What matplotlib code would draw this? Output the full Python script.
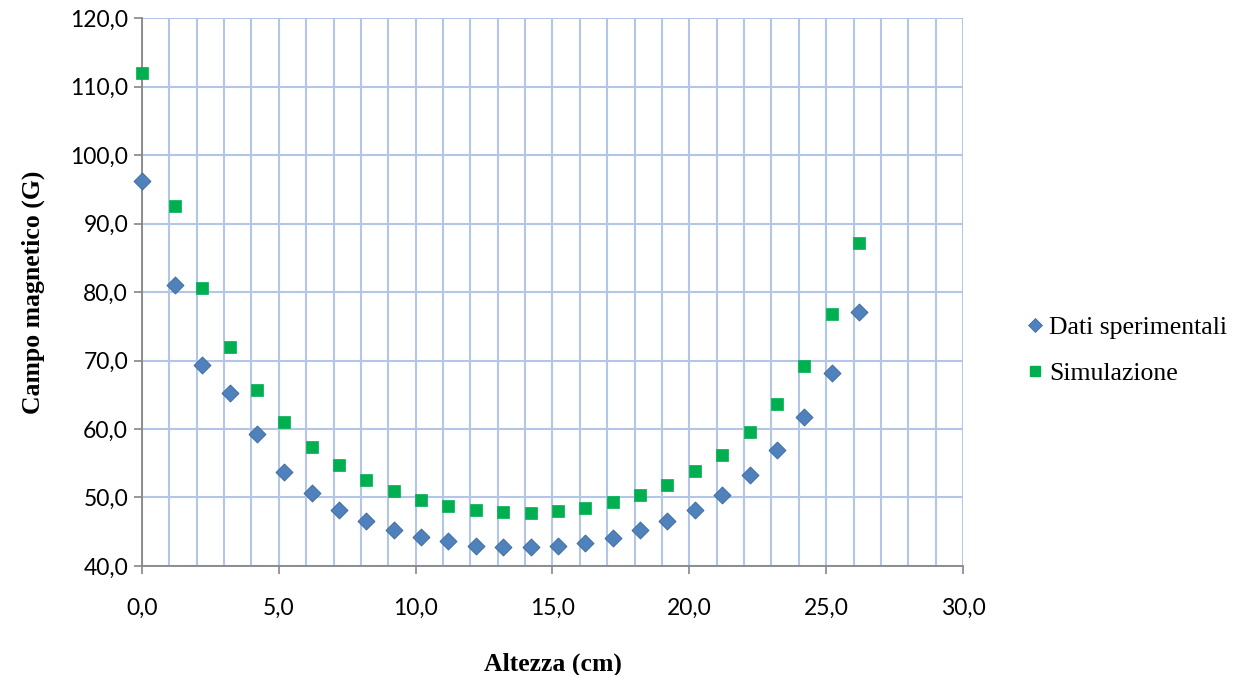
import matplotlib
matplotlib.use("Agg")
import matplotlib.pyplot as plt
from matplotlib.ticker import FuncFormatter, MultipleLocator
from matplotlib.lines import Line2D

# Magnetic field along the height of the coil
altezza = [0.0, 1.2, 2.2, 3.2, 4.2, 5.2, 6.2, 7.2, 8.2, 9.2, 10.2, 11.2, 12.2, 13.2,
           14.2, 15.2, 16.2, 17.2, 18.2, 19.2, 20.2, 21.2, 22.2, 23.2, 24.2, 25.2, 26.2]
dati_sperimentali = [96.2, 81.0, 69.4, 65.3, 59.3, 53.7, 50.6, 48.2, 46.6, 45.3, 44.3, 43.6,
                     42.9, 42.7, 42.7, 42.9, 43.4, 44.1, 45.2, 46.5, 48.2, 50.3, 53.3, 57.0,
                     61.8, 68.2, 77.1]
simulazione = [112.0, 92.6, 80.6, 72.0, 65.7, 61.0, 57.4, 54.7, 52.5, 50.9, 49.7, 48.8,
               48.2, 47.9, 47.8, 48.0, 48.5, 49.3, 50.4, 51.8, 53.8, 56.2, 59.5, 63.7,
               69.2, 76.8, 87.2]

serif = "Liberation Serif"
sans = "Lato"

fig = plt.figure(figsize=(12.41, 6.75), dpi=100)
ax = fig.add_axes([0.1144, 0.1615, 0.6616, 0.8118])

grid_color = "#B3C6E7"
ax.set_xlim(0, 30)
ax.set_ylim(40, 120)
ax.xaxis.set_major_locator(MultipleLocator(5))
ax.xaxis.set_minor_locator(MultipleLocator(1))
ax.yaxis.set_major_locator(MultipleLocator(10))
ax.grid(True, which="both", axis="x", color=grid_color, linewidth=1.5)
ax.grid(True, which="major", axis="y", color=grid_color, linewidth=1.5)
ax.set_axisbelow(True)

for side in ("top", "right"):
    ax.spines[side].set_visible(False)
for side in ("left", "bottom"):
    ax.spines[side].set_color("#868686")
    ax.spines[side].set_linewidth(1.3)
ax.tick_params(which="major", direction="out", length=6, width=1.2, color="#868686",
               labelsize=16.5, pad=4)
ax.tick_params(axis="x", which="minor", length=0)
ax.tick_params(axis="x", which="major", pad=17)

fmt = FuncFormatter(lambda v, p: f"{v:.1f}".replace(".", ","))
ax.xaxis.set_major_formatter(fmt)
ax.yaxis.set_major_formatter(fmt)
for lab in ax.get_xticklabels() + ax.get_yticklabels():
    lab.set_fontfamily(sans)

ax.scatter(altezza, dati_sperimentali, marker="D", s=75, color="#4F81BD",
           edgecolors="#3A6699", linewidths=0.6, zorder=3, clip_on=False)
ax.scatter(altezza, simulazione, marker="s", s=66, color="#00B050",
           edgecolors="#00B050", linewidths=0.5, zorder=3, clip_on=False)

ax.set_xlabel("Altezza (cm)", fontfamily=serif, fontweight="bold", fontsize=18.5, labelpad=24)
ax.set_ylabel("Campo magnetico (G)", fontfamily=serif, fontweight="bold", fontsize=18.5,
              labelpad=18)

handles = [
    Line2D([], [], linestyle="none", marker="D", markersize=7.5, color="#4F81BD",
           markeredgecolor="#3A6699", markeredgewidth=0.5),
    Line2D([], [], linestyle="none", marker="s", markersize=7.5, color="#00B050"),
]
leg = fig.legend(handles, ["Dati sperimentali", "Simulazione"], loc="center left",
                 bbox_to_anchor=(0.8205, 0.481), frameon=False,
                 prop={"family": serif, "size": 18.5}, handlelength=0.5,
                 handletextpad=0.3, labelspacing=0.9, borderaxespad=0)

fig.savefig("out.png", dpi=100)
